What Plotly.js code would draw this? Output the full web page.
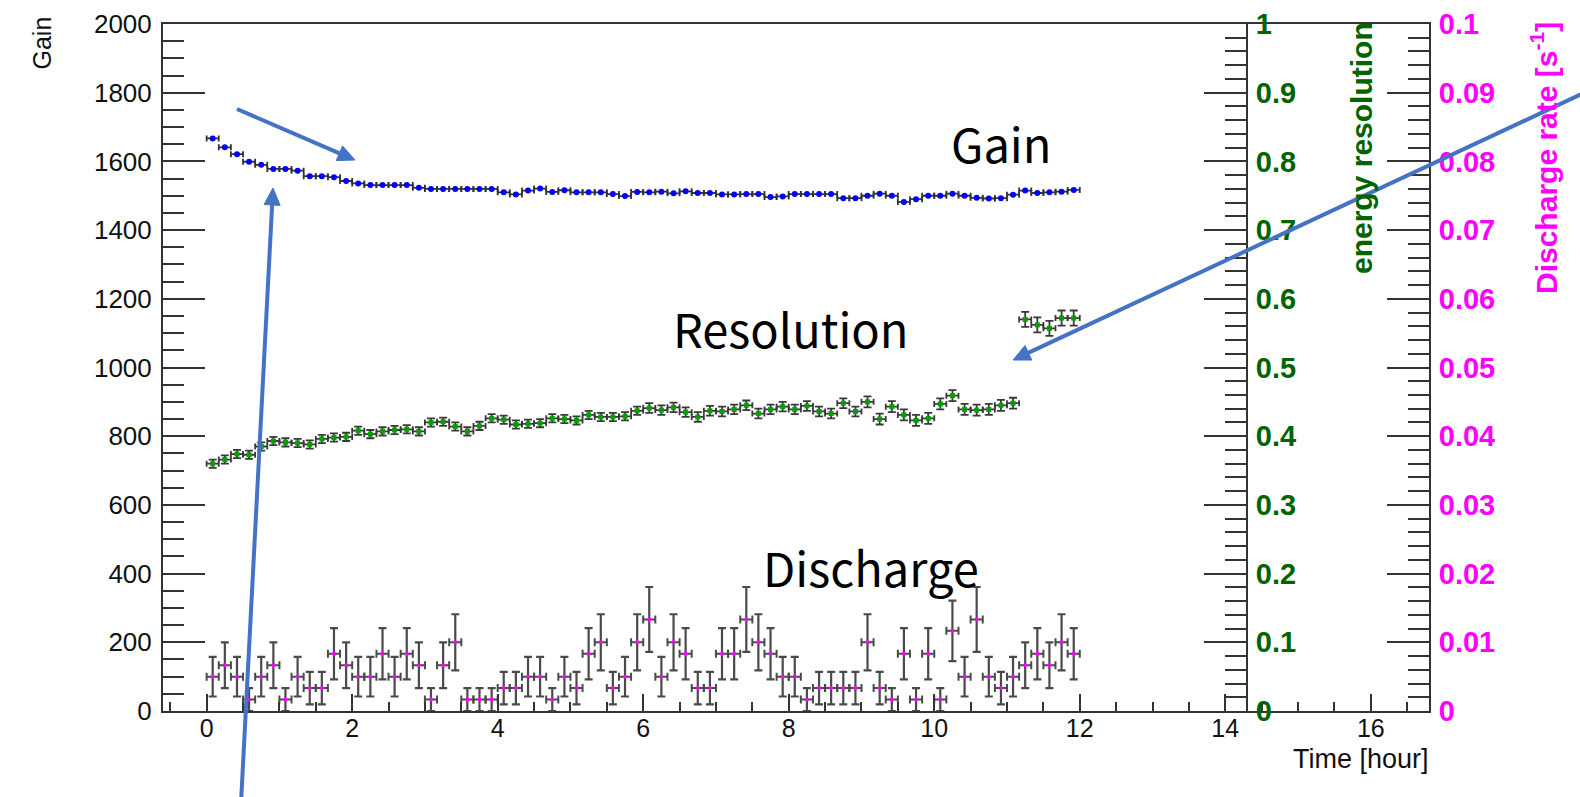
<!DOCTYPE html>
<html>
<head>
<meta charset="utf-8">
<script src="https://cdn.plot.ly/plotly-3.0.1.min.js"></script>
<style>
  html, body { margin: 0; padding: 0; background: #ffffff; }
  #chart { width: 1580px; height: 797px; }
</style>
</head>
<body>
<div id="chart"></div>
<script>
// ---------------- data (10-minute bins) ----------------
const timeHour = [0.083,0.25,0.417,0.583,0.75,0.917,1.083,1.25,1.417,1.583,1.75,1.917,
  2.083,2.25,2.417,2.583,2.75,2.917,3.083,3.25,3.417,3.583,3.75,3.917,
  4.083,4.25,4.417,4.583,4.75,4.917,5.083,5.25,5.417,5.583,5.75,5.917,
  6.083,6.25,6.417,6.583,6.75,6.917,7.083,7.25,7.417,7.583,7.75,7.917,
  8.083,8.25,8.417,8.583,8.75,8.917,9.083,9.25,9.417,9.583,9.75,9.917,
  10.083,10.25,10.417,10.583,10.75,10.917,11.083,11.25,11.417,11.583,11.75,11.917];
const binHalfWidth = 0.0833;

const gain = [1667,1641,1621,1599,1590,1578,1578,1573,1557,1557,1554,1543,
  1536,1531,1531,1531,1531,1523,1520,1520,1520,1520,1520,1520,
  1510,1504,1515,1521,1511,1516,1510,1510,1510,1505,1499,1511,
  1510,1512,1507,1513,1508,1508,1504,1504,1505,1505,1496,1498,
  1505,1505,1505,1505,1493,1493,1500,1506,1500,1482,1490,1500,
  1500,1506,1500,1494,1492,1493,1503,1515,1508,1510,1512,1517];
const gainErr = 3;

const resolution = [0.360,0.366,0.374,0.373,0.385,0.393,0.391,0.390,0.388,0.396,0.398,0.399,
  0.408,0.403,0.407,0.409,0.410,0.407,0.420,0.421,0.414,0.407,0.415,0.426,
  0.424,0.417,0.418,0.419,0.426,0.425,0.423,0.431,0.428,0.428,0.429,0.437,
  0.441,0.438,0.442,0.435,0.428,0.437,0.436,0.439,0.445,0.433,0.439,0.443,
  0.439,0.444,0.436,0.433,0.448,0.436,0.450,0.425,0.443,0.431,0.423,0.426,
  0.447,0.459,0.439,0.438,0.439,0.445,0.448,0.570,0.562,0.557,0.572,0.572];
const resolutionErr = [0.006,0.006,0.006,0.006,0.006,0.006,0.006,0.006,0.006,0.006,0.006,0.006,
  0.006,0.006,0.006,0.006,0.006,0.006,0.006,0.006,0.006,0.006,0.006,0.006,
  0.006,0.006,0.006,0.006,0.006,0.006,0.006,0.006,0.006,0.006,0.006,0.006,
  0.007,0.007,0.007,0.007,0.007,0.007,0.007,0.007,0.007,0.007,0.007,0.007,
  0.007,0.007,0.007,0.007,0.007,0.007,0.008,0.008,0.008,0.008,0.008,0.008,
  0.008,0.008,0.008,0.008,0.008,0.008,0.008,0.011,0.011,0.011,0.011,0.011];

// discharge counts per 10-minute bin (600 s)
const dischargeCounts = [3,4,3,1,3,4,1,3,2,2,5,4,
  3,3,5,3,5,4,1,4,6,1,1,1,
  2,2,3,3,1,3,2,5,6,2,3,6,
  8,3,6,5,2,2,5,5,8,6,5,3,
  3,1,2,2,2,2,6,2,1,5,1,5,
  1,7,3,8,3,2,3,4,5,4,6,5];
const binSeconds = 600;
const dischargeRate = dischargeCounts.map(n => n / binSeconds);
const dischargeErr = dischargeCounts.map(n => Math.sqrt(n) / binSeconds);

// ---------------- layout helpers ----------------
const W = 1580, H = 797;
const M = {l: 163, r: 151, t: 24, b: 86};
const PW = W - M.l - M.r, PH = H - M.t - M.b;
const px = x => (x - M.l) / PW;
const py = y => (H - M.b - y) / PH;

const FONT = 'Liberation Sans, Arial, Helvetica, sans-serif';
const AX = '#333333';
const GREEN = '#006400';
const MAGENTA = '#ff00ff';
const BLUE_ARROW = '#4472C4';
const JP = 'Noto Sans CJK JP, Noto Sans, sans-serif';

// arrow builder (pixel geometry -> paper shapes)
function arrowShapes(tail, head, color, width, headLen, headHalf) {
  const dx = head[0] - tail[0], dy = head[1] - tail[1];
  const len = Math.hypot(dx, dy);
  const ux = dx / len, uy = dy / len;
  const nx = -uy, ny = ux;
  const bx = head[0] - ux * headLen, by = head[1] - uy * headLen;
  const lx = bx + ux * 2, ly = by + uy * 2;
  return [
    {type: 'line', xref: 'paper', yref: 'paper', layer: 'above',
     x0: px(tail[0]), y0: py(tail[1]), x1: px(lx), y1: py(ly),
     line: {color: color, width: width}},
    {type: 'path', xref: 'paper', yref: 'paper', layer: 'above',
     path: 'M' + px(head[0]) + ',' + py(head[1]) +
           'L' + px(bx + nx * headHalf) + ',' + py(by + ny * headHalf) +
           'L' + px(bx - nx * headHalf) + ',' + py(by - ny * headHalf) + 'Z',
     fillcolor: color, line: {color: color, width: 1}}
  ];
}

const traces = [
  {
    x: timeHour, y: dischargeRate, yaxis: 'y3', type: 'scatter', mode: 'markers',
    marker: {color: MAGENTA, size: 4, symbol: 'circle'},
    error_y: {type: 'data', array: dischargeErr, visible: true, color: '#4a4a4a', thickness: 2.2, width: 4},
    error_x: {type: 'constant', value: binHalfWidth, visible: true, color: '#4a4a4a', thickness: 2, width: 4},
    hoverinfo: 'skip', showlegend: false
  },
  {
    x: timeHour, y: resolution, yaxis: 'y2', type: 'scatter', mode: 'markers',
    marker: {color: '#00a000', size: 5, symbol: 'square'},
    error_y: {type: 'data', array: resolutionErr, visible: true, color: '#3a3a3a', thickness: 1.8, width: 4},
    error_x: {type: 'constant', value: binHalfWidth, visible: true, color: '#3a3a3a', thickness: 1.8, width: 3},
    hoverinfo: 'skip', showlegend: false
  },
  {
    x: timeHour, y: gain, yaxis: 'y', type: 'scatter', mode: 'markers',
    marker: {color: '#0000ff', size: 6, symbol: 'circle'},
    error_y: {type: 'constant', value: gainErr, visible: true, color: '#333', thickness: 1.5, width: 0},
    error_x: {type: 'constant', value: binHalfWidth, visible: true, color: '#333', thickness: 1.8, width: 3},
    hoverinfo: 'skip', showlegend: false
  }
];

const tickBase = {
  ticks: 'inside', tickcolor: AX, tickwidth: 2,
  showline: true, linecolor: AX, linewidth: 2,
  showgrid: false, zeroline: false
};

const layout = {
  width: W, height: H,
  margin: {l: M.l, r: M.r, t: M.t, b: M.b, pad: 0},
  paper_bgcolor: '#ffffff', plot_bgcolor: 'rgba(0,0,0,0)',
  font: {family: FONT, color: '#111'},
  showlegend: false,
  xaxis: Object.assign({}, tickBase, {
    range: [-0.6, 16.8], tick0: 0, dtick: 2, ticklen: 17, mirror: true,
    minor: {dtick: 0.5, ticklen: 9, tickwidth: 2, tickcolor: AX, ticks: 'inside'},
    tickfont: {family: FONT, size: 25, color: '#111'},
    ticklabelstandoff: -6
  }),
  yaxis: Object.assign({}, tickBase, {
    range: [0, 2000], tick0: 0, dtick: 200, ticklen: 42,
    minor: {dtick: 50, ticklen: 21, tickwidth: 2, tickcolor: AX, ticks: 'inside'},
    tickfont: {family: FONT, size: 26, color: '#111'},
    ticklabelstandoff: 4
  }),
  yaxis2: Object.assign({}, tickBase, {
    overlaying: 'y', side: 'right', anchor: 'free', position: px(1247),
    range: [0, 1], tick0: 0, dtick: 0.1, ticklen: 42,
    minor: {dtick: 0.02, ticklen: 21, tickwidth: 2, tickcolor: AX, ticks: 'inside'},
    tickfont: {family: FONT, size: 29, color: GREEN, weight: 'bold'},
    ticklabelstandoff: 2
  }),
  yaxis3: Object.assign({}, tickBase, {
    overlaying: 'y', side: 'right', anchor: 'x',
    range: [0, 0.1], tick0: 0, dtick: 0.01, ticklen: 42,
    minor: {dtick: 0.002, ticklen: 21, tickwidth: 2, tickcolor: AX, ticks: 'inside'},
    tickfont: {family: FONT, size: 29, color: MAGENTA, weight: 'bold'},
    ticklabelstandoff: 2
  }),
  shapes: [].concat(
    arrowShapes([237, 109], [355, 160], BLUE_ARROW, 4, 17, 8),
    arrowShapes([241, 803], [273, 188], BLUE_ARROW, 4, 17, 8),
    arrowShapes([1588, 91], [1013, 360], BLUE_ARROW, 4, 17, 8)
  ),
  annotations: [
    // axis titles (ROOT-style placement)
    {text: 'Gain', xref: 'paper', yref: 'paper', x: px(41), y: py(15), xanchor: 'center', yanchor: 'top',
     textangle: -90, showarrow: false, font: {family: FONT, size: 25, color: '#111'}},
    {text: 'Time [hour]', xref: 'paper', yref: 'paper', x: px(1431), y: py(759), xanchor: 'right', yanchor: 'middle',
     showarrow: false, font: {family: FONT, size: 27, color: '#111'}},
    {text: 'energy resolution', xref: 'paper', yref: 'paper', x: px(1361), y: py(20), xanchor: 'center', yanchor: 'top',
     textangle: -90, showarrow: false, font: {family: FONT, size: 30, color: GREEN, weight: 'bold'}},
    {text: 'Discharge rate [s<sup>-1</sup>]', xref: 'paper', yref: 'paper', x: px(1544), y: py(20), xanchor: 'center', yanchor: 'top',
     textangle: -90, showarrow: false, font: {family: FONT, size: 30, color: MAGENTA, weight: 'bold'}},
    // overlay labels
    {text: 'Gain', xref: 'paper', yref: 'paper', x: px(1001), y: py(142), xanchor: 'center', yanchor: 'middle',
     showarrow: false, font: {family: JP, size: 47, color: '#000'}},
    {text: 'Resolution', xref: 'paper', yref: 'paper', x: px(791), y: py(327), xanchor: 'center', yanchor: 'middle',
     showarrow: false, font: {family: JP, size: 47, color: '#000'}},
    {text: 'Discharge', xref: 'paper', yref: 'paper', x: px(871), y: py(566), xanchor: 'center', yanchor: 'middle',
     showarrow: false, font: {family: JP, size: 47, color: '#000'}}
  ]
};

Plotly.newPlot('chart', traces, layout, {displayModeBar: false, responsive: false});
</script>
</body>
</html>
